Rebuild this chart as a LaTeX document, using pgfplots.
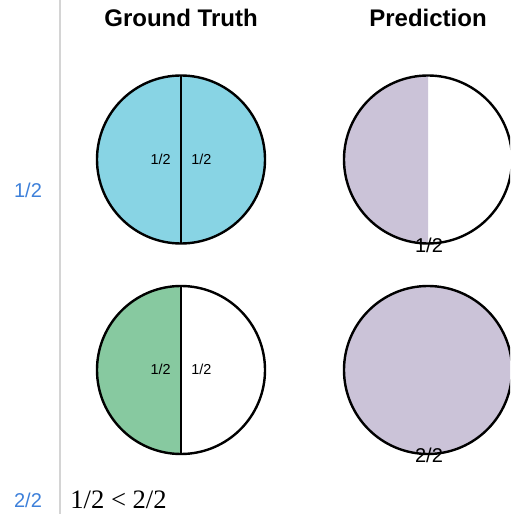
\documentclass[border=0pt]{standalone}
\usepackage{pgfplots}
\pgfplotsset{compat=1.18}
\usepackage{fontspec}
\setmainfont{Liberation Sans}
\newfontfamily\serif{Liberation Serif}

\definecolor{gtblue}{HTML}{88D4E4}
\definecolor{gtgreen}{HTML}{87C9A0}
\definecolor{predpurple}{HTML}{CBC3D8}
\definecolor{rowblue}{HTML}{3D80DA}
\definecolor{sepgray}{HTML}{D4D4D4}

% one data unit = one pixel of the reference (0.5pt), y counted from the bottom
\begin{document}
\begin{tikzpicture}
\useasboundingbox (0,0) rectangle (255pt,257pt);
\begin{axis}[
    scale only axis,
    width=255pt, height=257pt,
    xmin=0, xmax=510,
    ymin=0, ymax=514,
    hide axis,
]
% separator line
\addplot[sepgray, line width=0.6pt] coordinates {(60,0) (60,514)};

% ground truth, row 1: 1/2 + 1/2, both halves filled
\fill[gtblue] (axis cs:181,354.5) circle[radius=42pt];
\addplot[black, line width=0.9pt] coordinates {(181,270.5) (181,438.5)};
\draw[black, line width=1.2pt] (axis cs:181,354.5) circle[radius=42pt];

% ground truth, row 2: left half filled
\fill[gtgreen] (axis cs:181,228) arc[start angle=90, end angle=270, radius=42pt] -- cycle;
\addplot[black, line width=0.9pt] coordinates {(181,60) (181,228)};
\draw[black, line width=1.2pt] (axis cs:181,144) circle[radius=42pt];

% prediction, row 1: 1/2
\fill[predpurple] (axis cs:428,438.5) arc[start angle=90, end angle=270, radius=42pt] -- cycle;
\draw[black, line width=1.2pt] (axis cs:428,354.5) circle[radius=42pt];

% prediction, row 2: 2/2
\fill[predpurple] (axis cs:428,144) circle[radius=42pt];
\draw[black, line width=1.2pt] (axis cs:428,144) circle[radius=42pt];

% column titles
\node[font=\bfseries\fontsize{12}{14}\selectfont] at (axis cs:181,496) {Ground Truth};
\node[font=\bfseries\fontsize{12}{14}\selectfont] at (axis cs:428,496) {Prediction};

% labels inside ground truth circles
\node[anchor=east, inner sep=0pt, font=\fontsize{7.2}{8}\selectfont] at (axis cs:171,355) {1/2};
\node[anchor=west, inner sep=0pt, font=\fontsize{7.2}{8}\selectfont] at (axis cs:191,355) {1/2};
\node[anchor=east, inner sep=0pt, font=\fontsize{7.2}{8}\selectfont] at (axis cs:171,145) {1/2};
\node[anchor=west, inner sep=0pt, font=\fontsize{7.2}{8}\selectfont] at (axis cs:191,145) {1/2};

% labels on prediction circles
\node[inner sep=0pt, font=\fontsize{10}{12}\selectfont] at (axis cs:429,269) {1/2};
\node[inner sep=0pt, font=\fontsize{10}{12}\selectfont] at (axis cs:429,59) {2/2};

% row labels
\node[inner sep=0pt, text=rowblue, font=\fontsize{10}{12}\selectfont] at (axis cs:28,323.5) {1/2};
\node[inner sep=0pt, text=rowblue, font=\fontsize{10}{12}\selectfont] at (axis cs:28,13.5) {2/2};

% bottom comparison
\node[anchor=west, inner sep=0pt, font=\serif\fontsize{13.3}{15}\selectfont] at (axis cs:70,14) {1/2 < 2/2};
\end{axis}
\end{tikzpicture}
\end{document}
